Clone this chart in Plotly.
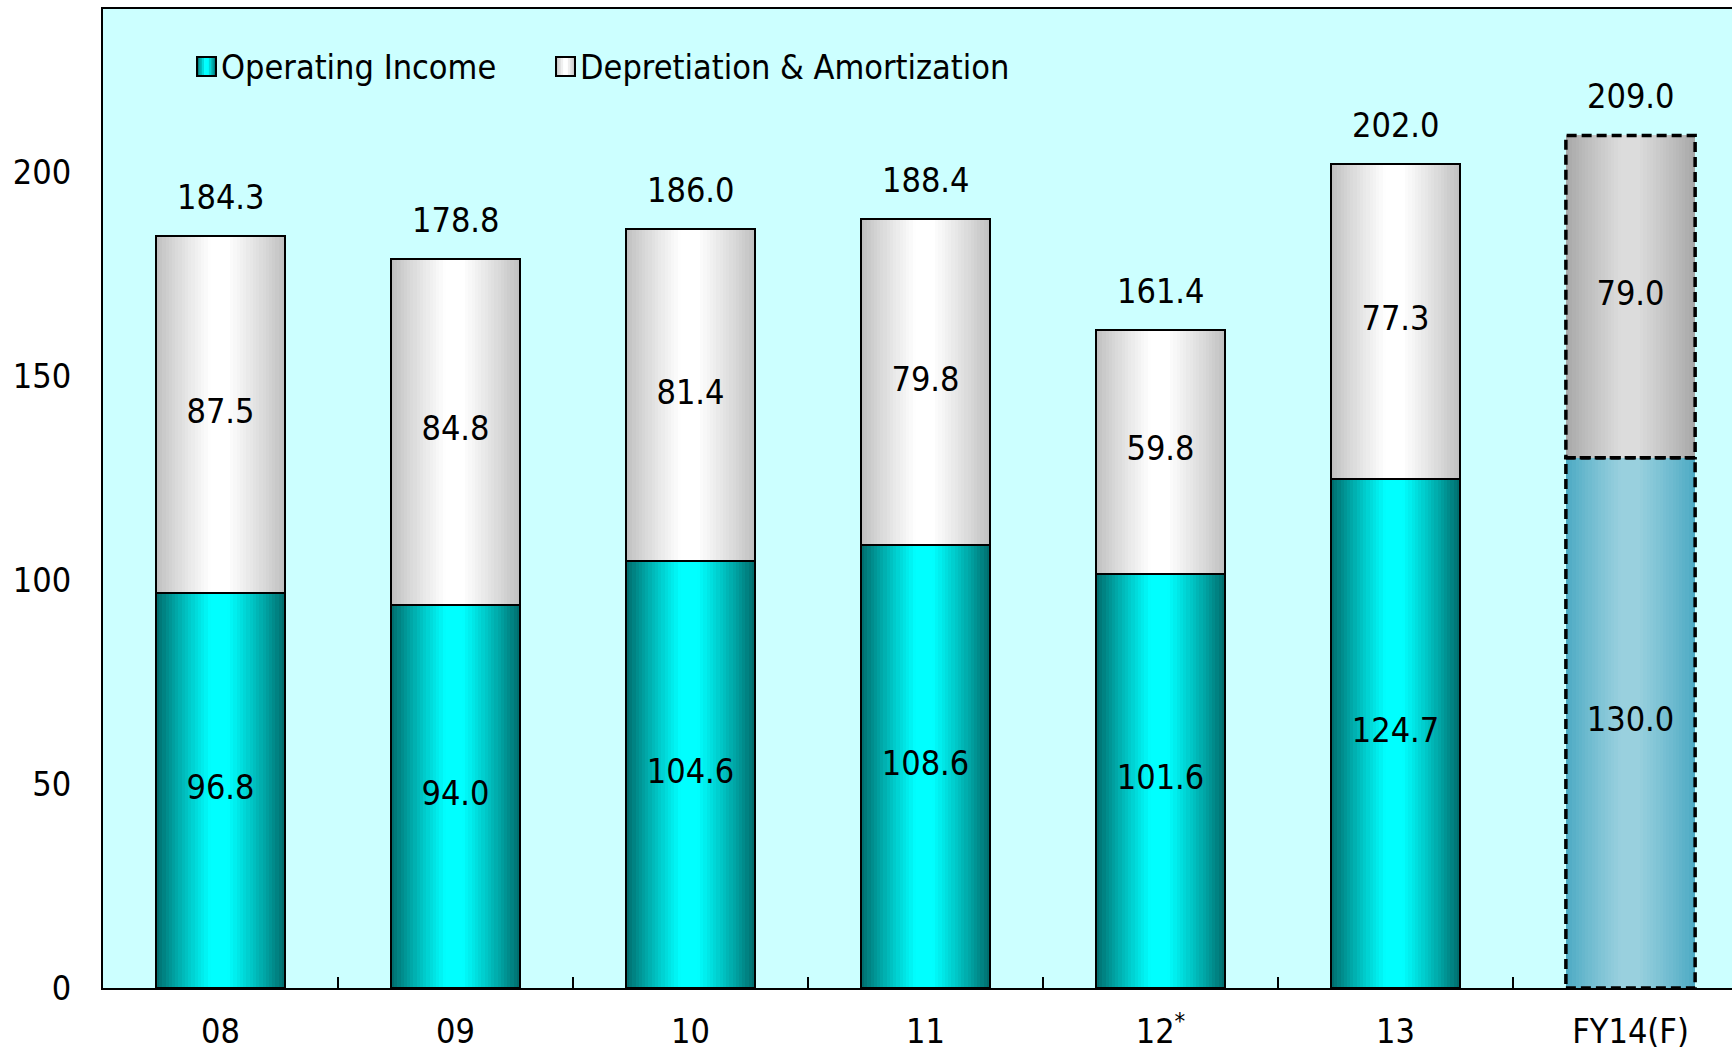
import plotly.graph_objects as go

# ---------------- data ----------------
categories = ["08", "09", "10", "11", "12", "13", "FY14(F)"]
tick_labels = ["08", "09", "10", "11", "12<sup>*</sup>", "13", "FY14(F)"]
operating_income = [96.8, 94.0, 104.6, 108.6, 101.6, 124.7, 130.0]
depreciation = [87.5, 84.8, 81.4, 79.8, 59.8, 77.3, 79.0]
totals = [184.3, 178.8, 186.0, 188.4, 161.4, 202.0, 209.0]
series_names = ["Operating Income", "Depretiation & Amortization"]
forecast_flags = [False, False, False, False, False, False, True]

# ---------------- style ----------------
FONT = "DejaVu Sans Condensed, DejaVu Sans, Verdana, sans-serif"
FS = 34
W, H = 1732, 1050
ML, MT, MB = 103, 9, 62
BAR_W = 0.55
N_STRIPS = 40

# gradient (edge colour, peak colour)
grad_oi = ((0, 104, 104), (0, 255, 255))
grad_oi_f = ((74, 169, 195), (153, 208, 222))
grad_da = ((190, 190, 190), (255, 255, 255))
grad_da_f = ((166, 166, 166), (220, 220, 220))


def shade(t):
    # 0 at edges, 1 at plateau near the centre
    if t < 0.42:
        return (t / 0.42) ** 0.9
    if t < 0.56:
        return 1.0
    return max(0.0, (1 - t) / 0.44) ** 0.9


def mix(pair, f):
    a, b = pair
    return "rgb(%d,%d,%d)" % tuple(round(a[i] + (b[i] - a[i]) * f) for i in range(3))


fig = go.Figure()

idx = list(range(len(categories)))
bases_da = operating_income
step = BAR_W / N_STRIPS
for vals, base, g, gf in [
    (operating_income, [0] * len(categories), grad_oi, grad_oi_f),
    (depreciation, bases_da, grad_da, grad_da_f),
]:
    for i in range(N_STRIPS):
        t = (i + 0.5) / N_STRIPS
        f = shade(t)
        colors = [mix(gf, f) if fc else mix(g, f) for fc in forecast_flags]
        w = step * 1.6 if i < N_STRIPS - 1 else step
        fig.add_trace(go.Bar(
            x=categories, y=vals, base=base,
            offset=-BAR_W / 2 + i * step, width=w,
            marker=dict(color=colors, line=dict(width=0)),
            showlegend=False, hoverinfo="skip",
        ))

# outlines
line_w = [0 if fc else 2 for fc in forecast_flags]
for vals, base in [(operating_income, [0] * len(categories)), (depreciation, bases_da)]:
    fig.add_trace(go.Bar(
        x=categories, y=vals, base=base, width=BAR_W,
        marker=dict(color="rgba(0,0,0,0)", line=dict(color="black", width=line_w)),
        showlegend=False, hoverinfo="skip",
    ))

# dashed outline for forecast
for k, fc in enumerate(forecast_flags):
    if not fc:
        continue
    for y0, y1 in [(0, operating_income[k]), (operating_income[k], operating_income[k] + depreciation[k])]:
        fig.add_shape(type="rect", xref="x", yref="y",
                      x0=k - BAR_W / 2, x1=k + BAR_W / 2, y0=y0, y1=y1,
                      line=dict(color="black", width=3.5, dash="10px,5px"),
                      fillcolor="rgba(0,0,0,0)", layer="above")

# inside labels
fig.add_trace(go.Scatter(
    x=categories, y=[v / 2 for v in operating_income], mode="text",
    text=["%.1f" % v for v in operating_income],
    textfont=dict(family=FONT, size=FS, color="black"),
    showlegend=False, hoverinfo="skip",
))
fig.add_trace(go.Scatter(
    x=categories, y=[b + v / 2 for b, v in zip(operating_income, depreciation)], mode="text",
    text=["%.1f" % v for v in depreciation],
    textfont=dict(family=FONT, size=FS, color="black"),
    showlegend=False, hoverinfo="skip",
))

# totals (category index positions)
for k, tv in zip(idx, totals):
    fig.add_annotation(x=k, y=tv, xref="x", yref="y", text="%.1f" % tv, showarrow=False,
                       yanchor="middle", yshift=39,
                       font=dict(family=FONT, size=FS, color="black"))

# custom legend
plot_w = W - ML
plot_h = H - MT - MB


def px(xp):
    return (xp - ML) / plot_w


def py(yp):
    return (H - MB - yp) / plot_h


legend_items = [(series_names[0], grad_oi, 197), (series_names[1], grad_da, 556)]
for name, g, x0 in legend_items:
    ns = 8
    for i in range(ns):
        f = shade((i + 0.5) / ns)
        fig.add_shape(type="rect", xref="paper", yref="paper",
                      x0=px(x0 + i * 19 / ns), x1=px(x0 + (i + 1) * 19 / ns + 0.5),
                      y0=py(76), y1=py(57), line=dict(width=0), fillcolor=mix(g, f))
    fig.add_shape(type="rect", xref="paper", yref="paper",
                  x0=px(x0), x1=px(x0 + 19), y0=py(76), y1=py(57),
                  line=dict(color="black", width=2), fillcolor="rgba(0,0,0,0)")
    fig.add_annotation(xref="paper", yref="paper", x=px(x0 + 22), y=py(66.5),
                       xanchor="left", yanchor="middle", text=name, showarrow=False,
                       font=dict(family=FONT, size=FS, color="black"))

fig.update_layout(
    width=W, height=H,
    margin=dict(l=ML, r=0, t=MT, b=MB, autoexpand=False),
    paper_bgcolor="white", plot_bgcolor="#ccffff",
    barmode="overlay", bargap=0,
    font=dict(family=FONT, size=FS, color="black"),
    showlegend=False,
)
fig.update_xaxes(
    type="category", range=[-0.5, -0.5 + plot_w / 235.0],
    tickvals=categories, ticktext=tick_labels,
    ticks="inside", tickson="boundaries", ticklen=11, tickwidth=2, tickcolor="black",
    showline=True, linecolor="black", linewidth=2, mirror=True,
    showgrid=False, zeroline=False, ticklabelstandoff=12, automargin=False,
    tickfont=dict(family=FONT, size=FS, color="black"),
)
fig.update_yaxes(
    range=[0, 240], tickvals=[0, 50, 100, 150, 200],
    showline=True, linecolor="black", linewidth=2,
    showgrid=False, zeroline=False, ticks="", ticklabelstandoff=23, automargin=False,
    tickfont=dict(family=FONT, size=FS, color="black"),
)

fig.write_html("out.html", config={"displayModeBar": False},
               post_script="document.body.style.margin='0';document.body.style.overflow='hidden';")
